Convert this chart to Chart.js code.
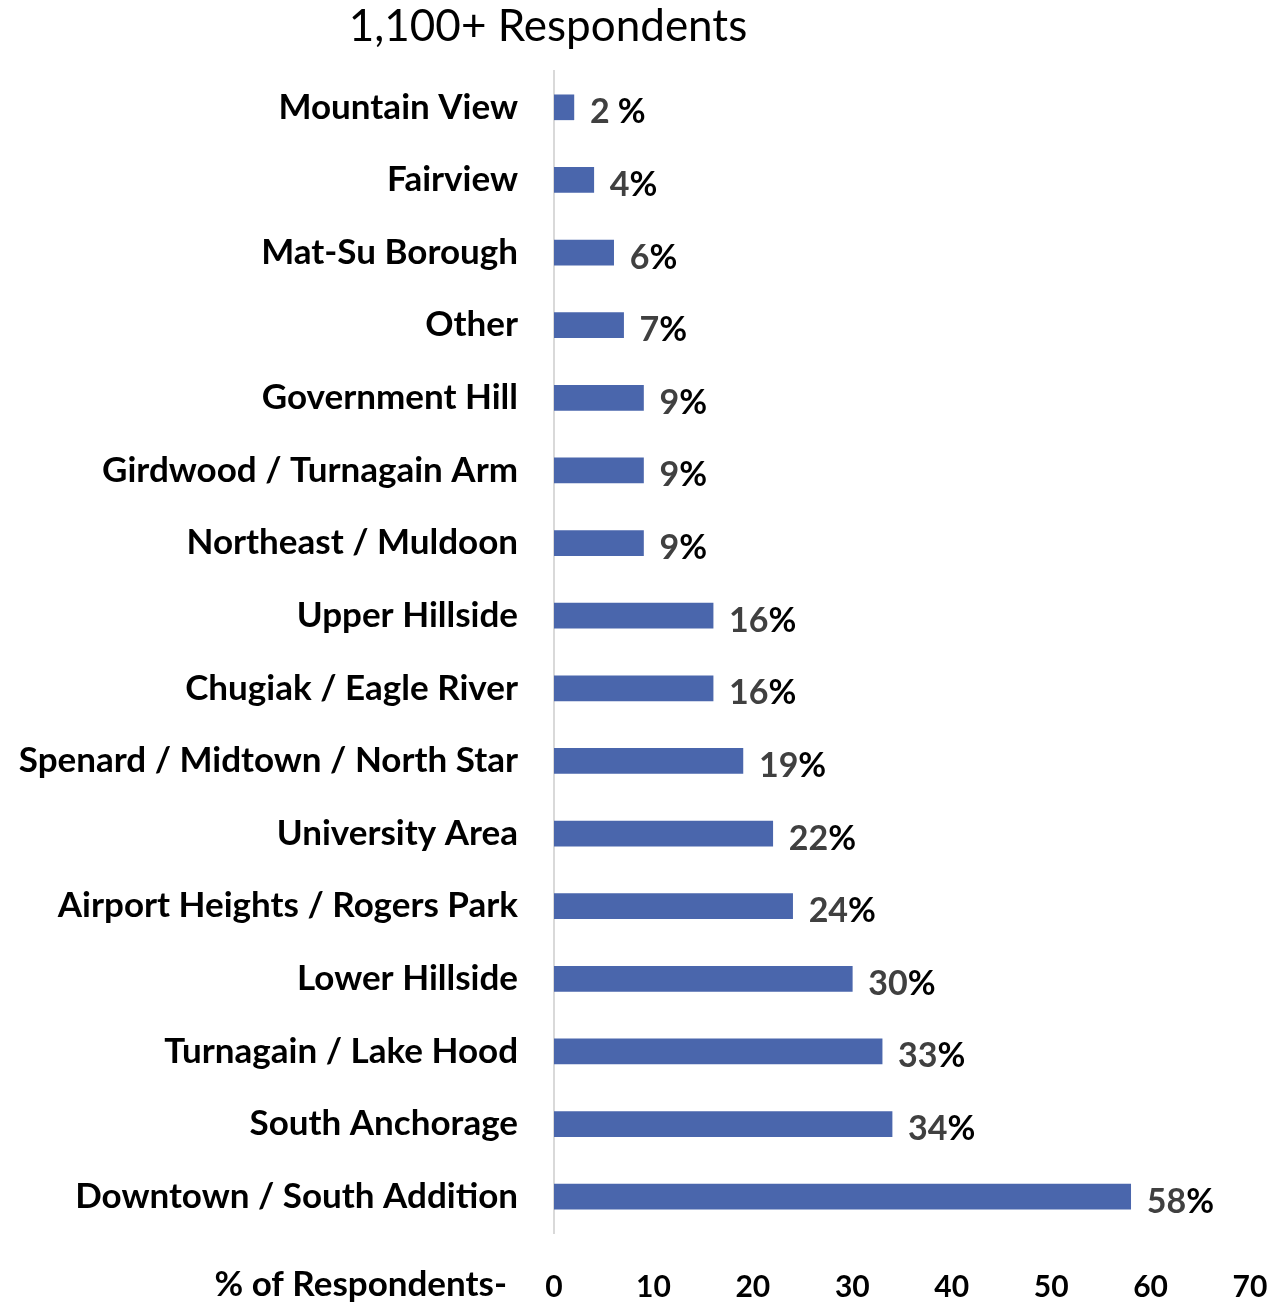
<!DOCTYPE html>
<html>
<head>
<meta charset="utf-8">
<script src="https://cdn.jsdelivr.net/npm/chart.js@4/dist/chart.umd.min.js"></script>
<style>
  html, body { margin: 0; padding: 0; background: #ffffff; }
  #wrap { width: 1281px; height: 1306px; }
</style>
</head>
<body>
<div id="wrap"><canvas id="c" width="1281" height="1306"></canvas></div>
<script>
const categories = [
  'Mountain View', 'Fairview', 'Mat-Su Borough', 'Other', 'Government Hill',
  'Girdwood / Turnagain Arm', 'Northeast / Muldoon', 'Upper Hillside',
  'Chugiak / Eagle River', 'Spenard / Midtown / North Star', 'University Area',
  'Airport Heights / Rogers Park', 'Lower Hillside', 'Turnagain / Lake Hood',
  'South Anchorage', 'Downtown / South Addition'
];
const values = [2, 4, 6, 7, 9, 9, 9, 16, 16, 19, 22, 24, 30, 33, 34, 58];
const valueLabels = ['2 %', '4%', '6%', '7%', '9%', '9%', '9%', '16%', '16%', '19%', '22%', '24%', '30%', '33%', '34%', '58%'];
const xTicks = [0, 10, 20, 30, 40, 50, 60, 70];
const chartTitle = '1,100+ Respondents';
const axisTitle = '% of Respondents-';

const FONT = 'Lato';

const decor = {
  id: 'decor',
  afterDatasetsDraw(chart) {
    const ctx = chart.ctx;
    const meta = chart.getDatasetMeta(0);
    ctx.save();
    ctx.font = 'bold 34px ' + FONT;
    ctx.textBaseline = 'middle';
    ctx.textAlign = 'left';
    meta.data.forEach((bar, i) => {
      const txt = valueLabels[i];
      const idx = txt.indexOf('%');
      const num = txt.slice(0, idx);
      const pct = txt.slice(idx);
      let x = bar.x + 16;
      const y = bar.y + 5;
      ctx.fillStyle = '#404040';
      ctx.fillText(num, x, y);
      x += ctx.measureText(num).width;
      ctx.fillStyle = '#000000';
      ctx.fillText(pct, x, y);
    });
    // title
    ctx.font = '44px ' + FONT;
    ctx.fillStyle = '#000000';
    ctx.textAlign = 'center';
    ctx.fillText(chartTitle, 548, 27);
    // axis title
    const xs = chart.scales.x;
    ctx.font = 'bold 35px ' + FONT;
    ctx.textAlign = 'right';
    ctx.fillText(axisTitle, xs.left - 47, xs.top + 52);
    ctx.restore();
  }
};

new Chart(document.getElementById('c'), {
  type: 'bar',
  data: {
    labels: categories,
    datasets: [{
      data: values,
      backgroundColor: '#4A66AC',
      borderWidth: 0,
      barThickness: 25
    }]
  },
  options: {
    indexAxis: 'y',
    responsive: false,
    animation: false,
    layout: { padding: { top: 71, right: 31, left: 0, bottom: 0 } },
    plugins: {
      legend: { display: false },
      title: { display: false },
      tooltip: { enabled: false }
    },
    scales: {
      x: {
        min: 0, max: 70,
        afterBuildTicks(scale) { scale.ticks = xTicks.map(v => ({ value: v })); },
        afterFit(scale) { scale.height = 73; scale.paddingRight = 0; scale.paddingLeft = 0; },
        grid: { display: false, drawTicks: false },
        border: { display: false },
        ticks: {
          padding: 36,
          color: '#000000',
          font: { family: FONT, size: 30, weight: 'bold' },
          maxRotation: 0
        }
      },
      y: {
        afterFit(scale) { scale.width = 554; },
        grid: { display: false, drawTicks: false },
        border: { display: true, color: '#d9d9d9', width: 2 },
        ticks: {
          padding: 36,
          color: '#000000',
          font: { family: FONT, size: 35, weight: 'bold' },
          autoSkip: false
        }
      }
    }
  },
  plugins: [decor]
});
</script>
</body>
</html>
